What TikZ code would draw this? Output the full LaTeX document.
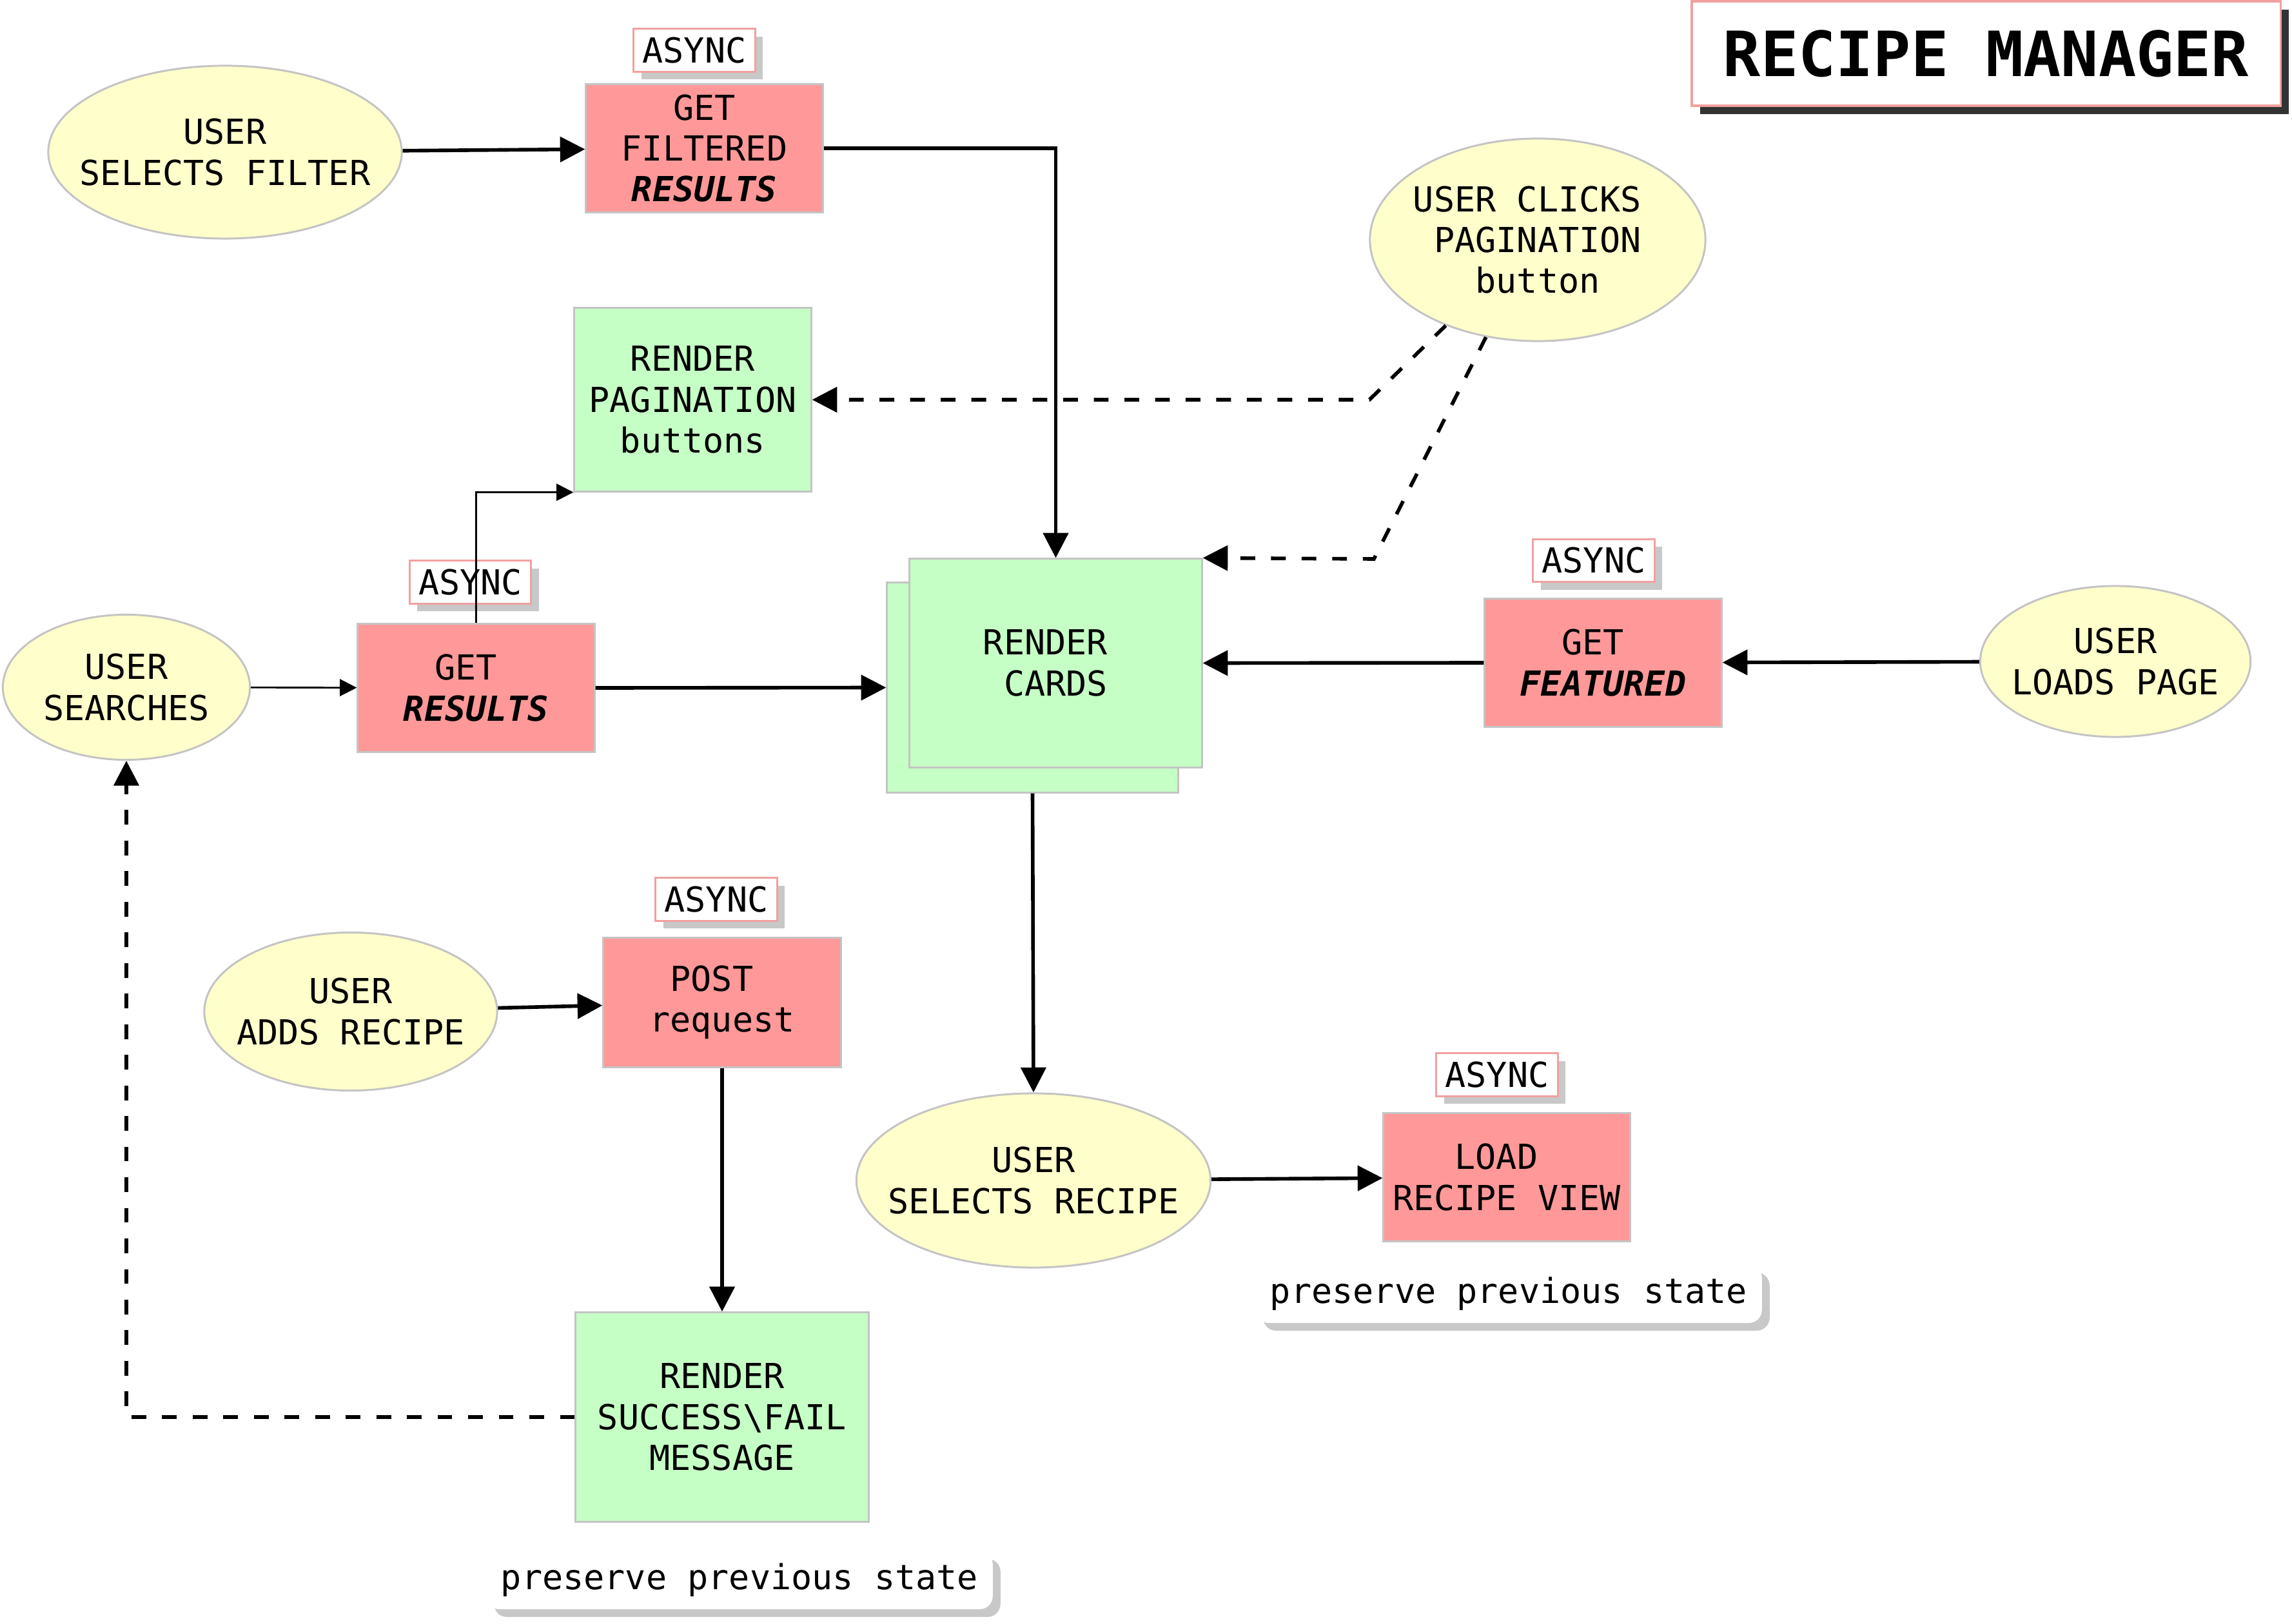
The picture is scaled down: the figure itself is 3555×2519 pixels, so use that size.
\documentclass[tikz,border=0pt]{standalone}
\usepackage{fontspec}
\setmainfont{DejaVu Sans Mono}
\usetikzlibrary{shapes.geometric, arrows.meta, shadows}

\definecolor{usrfill}{HTML}{FFFFCC}
\definecolor{redfill}{HTML}{FF9999}
\definecolor{greenfill}{HTML}{C6FFC6}
\definecolor{bordergray}{HTML}{C4C4C4}
\definecolor{pinkline}{HTML}{F2A0A0}
\definecolor{shadowgray}{HTML}{C8C8C8}
\definecolor{darkshadow}{HTML}{333333}

\newcommand\brush[1]{{\bfseries\itshape #1}}
\newcommand\padchar{\hphantom{X}}

\tikzset{
  base/.style={font=\fontsize{15.2}{18}\selectfont, align=center, inner sep=0pt, text=black},
  userev/.style={base, ellipse, draw=bordergray, line width=0.85pt, fill=usrfill, inner sep=-3cm},
  redbox/.style={base, rectangle, draw=bordergray, line width=0.85pt, fill=redfill},
  greenbox/.style={base, rectangle, draw=bordergray, line width=0.85pt, fill=greenfill},
  asynctag/.style={base, rectangle, draw=pinkline, line width=0.85pt, fill=white,
    minimum width=1.88cm, minimum height=0.66cm,
    drop shadow={shadow xshift=0.12cm, shadow yshift=-0.12cm, fill=shadowgray, opacity=1}},
  notetag/.style={base, rectangle, rounded corners=0.2cm, fill=white,
    minimum width=7.85cm, minimum height=0.9cm,
    drop shadow={shadow xshift=0.12cm, shadow yshift=-0.12cm, fill=shadowgray, opacity=1}},
  titletag/.style={rectangle, draw=pinkline, line width=1pt, fill=white, inner sep=0pt,
    minimum width=9.13cm, minimum height=1.62cm,
    font=\fontsize{27.5}{33}\selectfont\bfseries,
    drop shadow={shadow xshift=0.13cm, shadow yshift=-0.13cm, fill=darkshadow, opacity=1}},
  flow/.style={line width=1.6pt, -{Triangle[length=11pt,width=11pt]}},
  thinflow/.style={line width=0.75pt, -{Triangle[length=7.5pt,width=7.5pt]}},
  dashflow/.style={flow, dash pattern=on 6.5pt off 7pt},
}

\begin{document}
\begin{tikzpicture}[x=0.01cm,y=-0.01cm]
\useasboundingbox (0,0) rectangle (3555,2519);

% title
\node[titletag] (title) at (3080.5,83) {RECIPE MANAGER};

% user events (ellipses)
\node[userev, minimum width=5.48cm, minimum height=2.68cm] (usf) at (349,236) {USER\\SELECTS FILTER};
\node[userev, minimum width=5.20cm, minimum height=3.14cm] (uc) at (2385,372) {USER CLICKS\padchar\\PAGINATION\\button};
\node[userev, minimum width=3.83cm, minimum height=2.25cm] (us) at (196,1066) {USER\\SEARCHES};
\node[userev, minimum width=4.19cm, minimum height=2.34cm] (ulp) at (3281,1026) {USER\\LOADS PAGE};
\node[userev, minimum width=4.54cm, minimum height=2.45cm] (uar) at (544,1569) {USER\\ADDS RECIPE};
\node[userev, minimum width=5.49cm, minimum height=2.70cm] (usr) at (1603,1831) {USER\\SELECTS RECIPE};

% async boxes
\node[redbox, minimum width=3.67cm, minimum height=1.98cm] (gf) at (1092.5,230) {GET\\FILTERED\\\brush{RESULTS}};
\node[redbox, minimum width=3.67cm, minimum height=1.98cm] (gr) at (738.5,1067) {GET\padchar\\\brush{RESULTS}};
\node[redbox, minimum width=3.67cm, minimum height=1.98cm] (gfeat) at (2486.5,1028) {GET\padchar\\\brush{FEATURED}};
\node[redbox, minimum width=3.68cm, minimum height=2.00cm] (post) at (1120,1555) {POST\padchar\\request};
\node[redbox, minimum width=3.82cm, minimum height=1.98cm] (lrv) at (2337,1826) {LOAD\padchar\\RECIPE VIEW};

% render boxes
\node[greenbox, minimum width=3.67cm, minimum height=2.84cm] (pag) at (1074.5,620) {RENDER\\PAGINATION\\buttons};
\node[greenbox, minimum width=4.51cm, minimum height=3.25cm] (back) at (1601.5,1066.5) {};
\node[greenbox, minimum width=4.53cm, minimum height=3.23cm] (cards) at (1637.5,1028.5) {RENDER\padchar\\CARDS};
\node[greenbox, minimum width=4.54cm, minimum height=3.24cm] (rsf) at (1120,2198) {RENDER\\SUCCESS\textbackslash FAIL\\MESSAGE};

% ASYNC tags
\node[asynctag] (a1) at (1077,78) {ASYNC};
\node[asynctag] (a2) at (729.5,903) {ASYNC};
\node[asynctag] (a3) at (2472,869.5) {ASYNC};
\node[asynctag] (a4) at (1111,1395) {ASYNC};
\node[asynctag] (a5) at (2322,1667) {ASYNC};

% notes
\node[notetag] (n1) at (2340,2007) {preserve previous state};
\node[notetag] (n2) at (1147,2451) {preserve previous state};

% bend points
\coordinate (bA) at (2124,620);
\coordinate (bB) at (2131,867);

% connectors
\draw[flow] (usf) -- (gf);
\draw[flow] (gf.east) -| (cards.north);
\draw[dashflow] (uc.223) -- (bA) -- (pag.east);
\draw[dashflow] (uc.242) -- (bB) -- (cards.north east);
\draw[flow] (ulp) -- (gfeat);
\draw[flow] (gfeat.west) -- (cards.east);
\draw[thinflow] (us) -- (gr);
\draw[flow] (gr.east) -- (back.west);
\draw[thinflow] (gr.north) |- (pag.south west);
\draw[flow] (back.south) -- (usr.north);
\draw[flow] (usr) -- (lrv);
\draw[flow] (uar) -- (post);
\draw[flow] (post.south) -- (rsf.north);
\draw[dashflow] (rsf.west) -| (us.south);
\end{tikzpicture}
\end{document}
